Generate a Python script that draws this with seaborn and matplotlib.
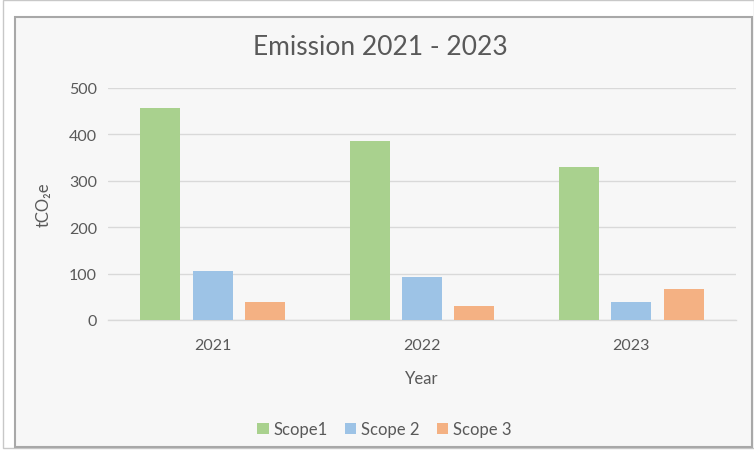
import pandas as pd
import matplotlib.pyplot as plt
import seaborn as sns
from matplotlib.patches import Rectangle

# Chart data
years = ['2021', '2022', '2023']
scope1 = [457, 386, 329]
scope2 = [106, 93, 39]
scope3 = [39, 30, 66]
series_names = ['Scope1', 'Scope 2', 'Scope 3']

colors = ['#A9D18E', '#9DC3E6', '#F4B183']
text_grey = '#595959'
grid_grey = '#D9D9D9'
panel_bg = '#F7F7F7'

data = pd.DataFrame({
    'Year': years * 3,
    'value': scope1 + scope2 + scope3,
    'series': [s for s in series_names for _ in years],
})

sns.set_style("white")
plt.rcParams['font.family'] = ['Lato', 'DejaVu Sans']

fig = plt.figure(figsize=(7.54, 4.52), dpi=100)
fig.patch.set_facecolor('white')

# Panel behind the chart, like the framed Office chart area
fig.patches.append(Rectangle((3 / 754, 3 / 452), 1 - 3 / 754, 1 - 4 / 452, transform=fig.transFigure,
                             facecolor='none', edgecolor='#C8C8C8', linewidth=1.0, zorder=-2))
fig.patches.append(Rectangle((15 / 754, 4 / 452), 737 / 754, 430 / 452, transform=fig.transFigure,
                             facecolor=panel_bg, edgecolor='#A8A8A8', linewidth=1.5, zorder=-1))

ax = fig.add_axes([108 / 754, (452 - 321) / 452, 628 / 754, 232 / 452])
ax.set_facecolor(panel_bg)

sns.barplot(data=data, x='Year', y='value', hue='series', palette=colors, saturation=1,
            width=0.75, gap=0.24, linewidth=0, ax=ax, legend=True, zorder=3)

ax.set_ylim(0, 500)
ax.set_yticks(range(0, 501, 100))
ax.yaxis.grid(True, color=grid_grey, linewidth=1.0, zorder=0)
ax.set_axisbelow(True)
for side in ['top', 'right', 'left']:
    ax.spines[side].set_visible(False)
ax.spines['bottom'].set_color(grid_grey)
ax.spines['bottom'].set_linewidth(1.0)
ax.tick_params(axis='both', length=0, labelsize=11.5, colors=text_grey, pad=8)
ax.tick_params(axis='x', pad=13)

ax.set_xlabel('Year', fontsize=12, color=text_grey, labelpad=13)
ax.set_ylabel('tCO₂e', fontsize=12, color=text_grey, labelpad=12)

fig.text(0.505, 0.895, 'Emission 2021 - 2023', ha='center', va='center',
         fontsize=19, color=text_grey)

handles, labels = ax.get_legend_handles_labels()
ax.get_legend().remove()
fig.legend(handles, labels, loc='center', bbox_to_anchor=(0.51, 0.048), ncol=3,
           frameon=False, fontsize=12, labelcolor=text_grey,
           handlelength=0.7, handleheight=0.7, handletextpad=0.3, columnspacing=1.0)

fig.savefig('out.png', dpi=100, facecolor=fig.get_facecolor())
